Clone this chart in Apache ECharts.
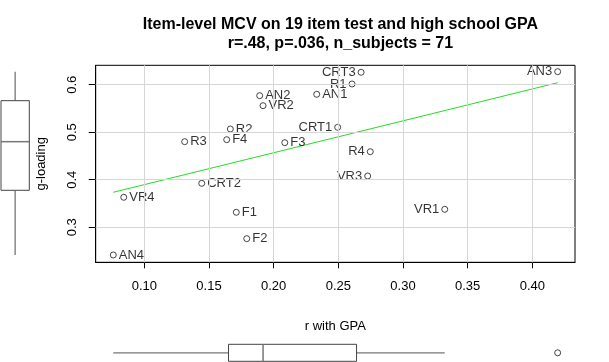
<!DOCTYPE html>
<html>
<head>
<meta charset="utf-8">
<script src="https://cdn.jsdelivr.net/npm/echarts@6/dist/echarts.min.js"></script>
<style>html,body{margin:0;padding:0;background:#fff}#c{width:609px;height:362px}</style>
</head>
<body>
<div id="c"></div>
<script>
const items = ['AN3','CRT3','R1','AN1','AN2','VR2','CRT1','R2','R3','F4','F3','R4','VR3','VR1','CRT2','VR4','F1','F2','AN4'];
const rWithGPA = [0.4196,0.2676,0.2606,0.2333,0.1892,0.1918,0.2495,0.1665,0.1312,0.1637,0.2086,0.2747,0.2727,0.3323,0.1444,0.0841,0.1711,0.1792,0.0760];
const gLoading = [0.6274,0.6261,0.6015,0.5798,0.5769,0.5558,0.5104,0.5068,0.4801,0.4843,0.4780,0.4590,0.4079,0.3378,0.3925,0.3631,0.3315,0.2760,0.2417];
const labelSide = ['left','left','left','right','right','right','left','right','right','right','right','left','left','left','right','right','right','right','right'];
const xTicks = [0.10,0.15,0.20,0.25,0.30,0.35,0.40];
const yTicks = [0.3,0.4,0.5,0.6];
const fitX = [0.0760,0.4196];
const fitY = [0.3736,0.6042];

const FONT = 'Liberation Sans';
const X_MIN = 0.0624, X_MAX = 0.433, Y_MIN = 0.2263, Y_MAX = 0.6408;

function fivenum(arr){
  const s=[...arr].sort((a,b)=>a-b); const n=s.length;
  const n4=Math.floor((n+3)/2)/2;
  const d=[1,n4,(n+1)/2,n+1-n4,n];
  return d.map(i=>0.5*(s[Math.floor(i)-1]+s[Math.ceil(i)-1]));
}
function boxStats(arr){
  const f=fivenum(arr); const iqr=f[3]-f[1];
  const loF=f[1]-1.5*iqr, hiF=f[3]+1.5*iqr;
  const inside=arr.filter(v=>v>=loF&&v<=hiF);
  return {stats:[Math.min(...inside),f[1],f[2],f[3],Math.max(...inside)], out:arr.filter(v=>v<loF||v>hiF)};
}
const bx=boxStats(rWithGPA), by=boxStats(gLoading);

function boxRender(horizontal){
  return function(params, api){
    const v=[0,1,2,3,4].map(i=>api.value(i));
    const pt=(a,val)=>horizontal?api.coord([val,a]):api.coord([a,val]);
    const line=(p1,p2,color,w)=>({type:'line',shape:{x1:p1[0],y1:p1[1],x2:p2[0],y2:p2[1]},style:{stroke:color,lineWidth:w}});
    const c=[pt(0,v[1]),pt(1,v[1]),pt(1,v[3]),pt(0,v[3])];
    return {type:'group',children:[
      line(pt(0.5,v[0]),pt(0.5,v[1]),'#777',1.3),
      line(pt(0.5,v[3]),pt(0.5,v[4]),'#777',1.3),
      {type:'polygon',shape:{points:c},style:{fill:'#fff',stroke:'#444',lineWidth:1}},
      line(pt(0,v[2]),pt(1,v[2]),'#777',1.5)
    ]};
  };
}

const points = items.map((n,i)=>({name:n,value:[rWithGPA[i],gLoading[i]],label:{position:labelSide[i]}}));

const chart = echarts.init(document.getElementById('c'),null,{renderer:'canvas'});
chart.setOption({
  animation:false,
  backgroundColor:'#fff',
  title:{text:'Item-level MCV on 19 item test and high school GPA\nr=.48, p=.036, n_subjects = 71',
    left:335.4, top:10, textAlign:'center',
    textStyle:{fontFamily:FONT,fontWeight:'bold',fontSize:16,lineHeight:19,color:'#000'}},
  grid:[
    {left:95.7,top:65.3,right:34,bottom:99.7,show:true,borderColor:'#000',borderWidth:1,backgroundColor:'transparent'},
    {left:1,width:28.3,top:65.3,bottom:99.7},
    {left:95.7,right:34,top:344.3,height:17}
  ],
  xAxis:[
    {type:'value',gridIndex:0,min:X_MIN,max:X_MAX,
     name:'r with GPA',nameLocation:'middle',nameGap:58,
     nameTextStyle:{fontFamily:FONT,fontSize:13,color:'#000'},
     axisLine:{show:true,lineStyle:{color:'#000'}},
     axisTick:{show:true,customValues:xTicks,length:6,lineStyle:{color:'#000'}},
     axisLabel:{customValues:xTicks,formatter:v=>v.toFixed(2),margin:18,fontFamily:FONT,fontSize:13,color:'#000'},
     splitLine:{show:false}},
    {type:'value',gridIndex:1,min:0,max:1,show:false},
    {type:'value',gridIndex:2,min:X_MIN,max:X_MAX,show:false}
  ],
  yAxis:[
    {type:'value',gridIndex:0,min:Y_MIN,max:Y_MAX,
     name:'g-loading',nameLocation:'middle',nameGap:48,
     nameTextStyle:{fontFamily:FONT,fontSize:13,color:'#000'},
     axisLine:{show:true,lineStyle:{color:'#000'}},
     axisTick:{show:true,customValues:yTicks,length:7,lineStyle:{color:'#000'}},
     axisLabel:{customValues:yTicks,formatter:v=>v.toFixed(1),rotate:90,margin:17,fontFamily:FONT,fontSize:13,color:'#000'},
     splitLine:{show:false}},
    {type:'value',gridIndex:1,min:Y_MIN,max:Y_MAX,show:false},
    {type:'value',gridIndex:2,min:0,max:1,show:false}
  ],
  series:[
    {type:'line',xAxisIndex:0,yAxisIndex:0,data:[],silent:true,z:1,
     markLine:{silent:true,symbol:['none','none'],label:{show:false},animation:false,
       lineStyle:{color:'#d6d6d6',type:'solid',width:1},
       data:[...xTicks.map(v=>({xAxis:v})),...yTicks.map(v=>({yAxis:v}))]}},
    {type:'line',xAxisIndex:0,yAxisIndex:0,z:2,silent:true,showSymbol:false,symbol:'none',
     data:fitX.map((x,i)=>[x,fitY[i]]),lineStyle:{color:'#22dd22',width:1}},
    {type:'scatter',xAxisIndex:0,yAxisIndex:0,z:3,symbol:'circle',symbolSize:6,
     itemStyle:{color:'rgba(0,0,0,0)',borderColor:'#000',borderWidth:0.9},
     label:{show:true,formatter:'{b}',distance:2,fontFamily:FONT,fontSize:13,color:'#000'},
     data:points},
    {type:'custom',xAxisIndex:1,yAxisIndex:1,renderItem:boxRender(false),data:[by.stats]},
    {type:'custom',xAxisIndex:2,yAxisIndex:2,renderItem:boxRender(true),data:[bx.stats]},
    {type:'scatter',xAxisIndex:2,yAxisIndex:2,symbol:'circle',symbolSize:6,
     itemStyle:{color:'rgba(0,0,0,0)',borderColor:'#000',borderWidth:0.9},
     data:bx.out.map(v=>[v,0.5])},
    {type:'scatter',xAxisIndex:1,yAxisIndex:1,symbol:'circle',symbolSize:6,
     itemStyle:{color:'rgba(0,0,0,0)',borderColor:'#000',borderWidth:0.9},
     data:by.out.map(v=>[0.5,v])}
  ]
});
</script>
</body>
</html>
